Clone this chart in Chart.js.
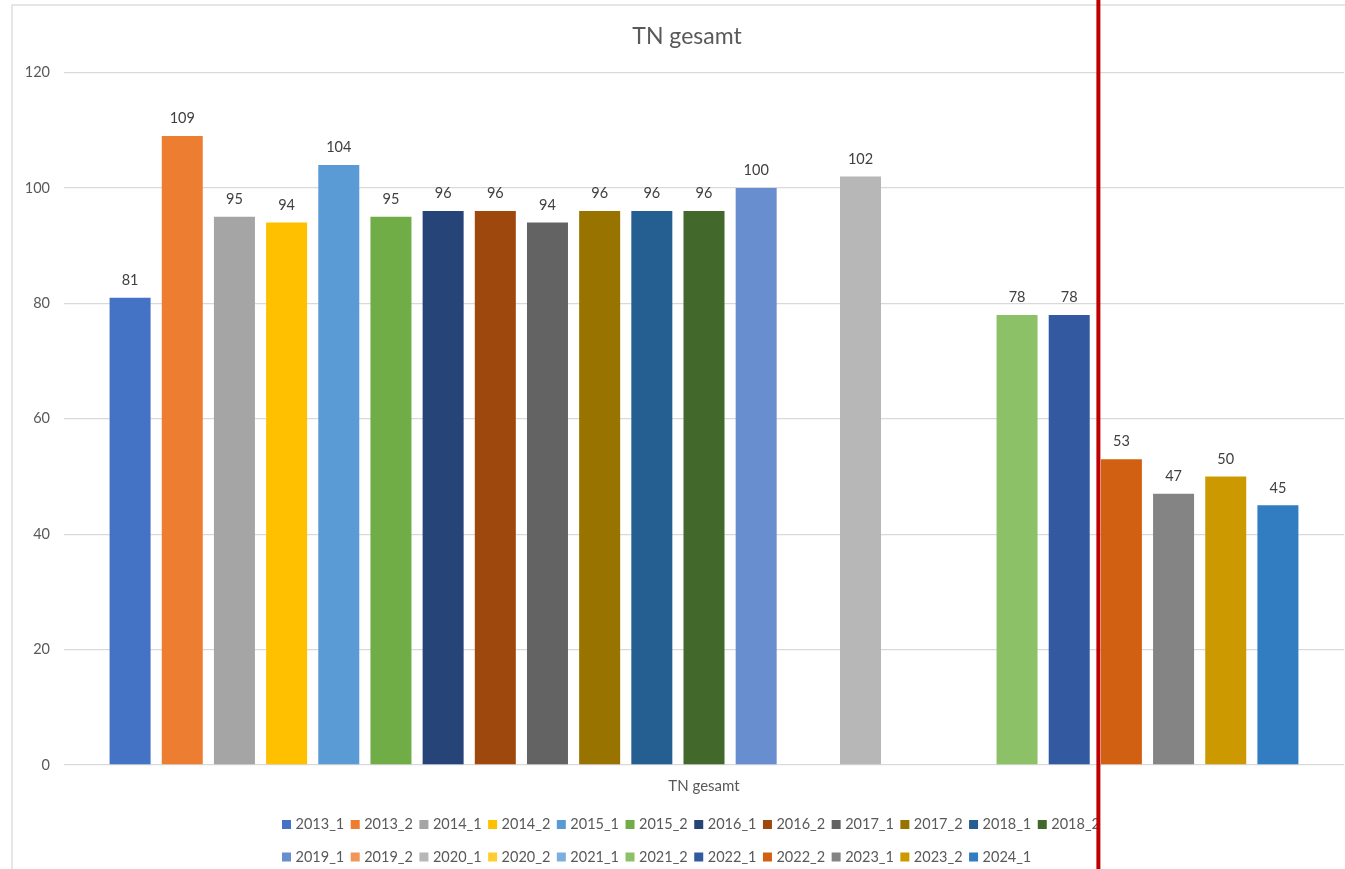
<!DOCTYPE html>
<html>
<head>
<meta charset="utf-8">
<script src="https://cdn.jsdelivr.net/npm/chart.js@4.4.1/dist/chart.umd.min.js"></script>
<style>
  html, body { margin: 0; padding: 0; background: #ffffff; }
  #wrap { width: 1345px; height: 869px; position: relative; }
</style>
</head>
<body>
<div id="wrap"><canvas id="c" width="1345" height="869"></canvas></div>
<script>
const chartTitle = 'TN gesamt';
const categories = ['TN gesamt'];
const seriesNames = ['2013_1','2013_2','2014_1','2014_2','2015_1','2015_2','2016_1','2016_2','2017_1','2017_2','2018_1','2018_2',
                     '2019_1','2019_2','2020_1','2020_2','2021_1','2021_2','2022_1','2022_2','2023_1','2023_2','2024_1'];
const seriesValues = [81,109,95,94,104,95,96,96,94,96,96,96,
                      100,null,102,null,null,78,78,53,47,50,45];
const seriesColors = ['#4472C4','#ED7D31','#A5A5A5','#FFC000','#5B9BD5','#70AD47','#264478','#9E480E','#636363','#997300','#255E91','#43682B',
                      '#698ED0','#F1975A','#B7B7B7','#FFCD33','#7CAFDD','#8CC168','#335AA1','#D26012','#848484','#CC9A00','#327DC2'];
const yTicks = [0,20,40,60,80,100,120];
const legendRows = [12, 11];
const markerSeries = '2022_2';

const FONT = 'Lato, "Noto Sans", sans-serif';

const datasets = seriesNames.map((name, i) => ({
  label: name,
  data: [seriesValues[i]],
  backgroundColor: seriesColors[i],
  borderWidth: 0,
  categoryPercentage: 0.9375,
  barPercentage: 0.786
}));

const framePlugin = {
  id: 'frame',
  beforeDraw(chart) {
    const ctx = chart.ctx;
    ctx.save();
    ctx.fillStyle = '#ffffff';
    ctx.fillRect(0, 0, chart.width, chart.height);
    ctx.strokeStyle = '#D9D9D9';
    ctx.lineWidth = 1.3;
    ctx.strokeRect(12, 5, chart.width + 40, chart.height + 40);
    ctx.restore();
  }
};

const titlePlugin = {
  id: 'excelTitle',
  afterDraw(chart) {
    const ctx = chart.ctx;
    ctx.save();
    ctx.font = '23px ' + FONT;
    ctx.fillStyle = '#595959';
    ctx.textAlign = 'center';
    ctx.textBaseline = 'middle';
    const cx = (chart.chartArea.left + chart.chartArea.right) / 2 - 17;
    ctx.fillText(chartTitle, cx, 37);
    ctx.restore();
  }
};

const labelPlugin = {
  id: 'valueLabels',
  afterDatasetsDraw(chart) {
    const ctx = chart.ctx;
    ctx.save();
    ctx.font = '14.5px ' + FONT;
    ctx.fillStyle = '#404040';
    ctx.textAlign = 'center';
    ctx.textBaseline = 'middle';
    chart.data.datasets.forEach((ds, di) => {
      const meta = chart.getDatasetMeta(di);
      meta.data.forEach((el, j) => {
        const v = ds.data[j];
        if (v === null || v === undefined) return;
        ctx.fillText(String(v), el.x, el.y - 17.5);
      });
    });
    ctx.restore();
  }
};

const legendPlugin = {
  id: 'excelLegend',
  afterDraw(chart) {
    const ctx = chart.ctx;
    ctx.save();
    ctx.font = '14.5px ' + FONT;
    ctx.textBaseline = 'middle';
    const box = 9, gapBox = 4.5, gapItem = 6.5;
    const ds = chart.data.datasets;
    const widths = ds.map(d => box + gapBox + ctx.measureText(d.label).width + gapItem);
    const row1W = widths.slice(0, legendRows[0]).reduce((a, b) => a + b, 0) - gapItem;
    const centerX = (chart.chartArea.left + chart.chartArea.right) / 2 - 11;
    const startX = Math.min(282, centerX - row1W / 2);
    const rowY = [824.5, 857];
    let idx = 0;
    legendRows.forEach((n, r) => {
      let x = startX;
      for (let k = 0; k < n && idx < ds.length; k++, idx++) {
        ctx.fillStyle = ds[idx].backgroundColor;
        ctx.fillRect(x, rowY[r] - 4.5, box, box);
        ctx.fillStyle = '#595959';
        ctx.textAlign = 'left';
        ctx.fillText(ds[idx].label, x + box + gapBox, rowY[r]);
        x += widths[idx];
      }
    });
    ctx.restore();
  }
};

const markerPlugin = {
  id: 'redMarker',
  afterDraw(chart) {
    const di = seriesNames.indexOf(markerSeries);
    const el = chart.getDatasetMeta(di).data[0];
    if (!el) return;
    const x = el.x - el.width / 2 - 2.5;
    const ctx = chart.ctx;
    ctx.save();
    ctx.strokeStyle = '#C00000';
    ctx.lineWidth = 4;
    ctx.beginPath();
    ctx.moveTo(x, 0);
    ctx.lineTo(x, chart.height);
    ctx.stroke();
    ctx.restore();
  }
};

new Chart(document.getElementById('c'), {
  type: 'bar',
  data: { labels: categories, datasets },
  options: {
    responsive: false,
    animation: false,
    devicePixelRatio: 1,
    layout: { padding: { left: 0, right: 1, top: 72.6, bottom: 0 } },
    plugins: {
      legend: { display: false },
      tooltip: { enabled: false },
      title: { display: false }
    },
    scales: {
      x: {
        grid: { display: false, drawTicks: false },
        border: { display: false },
        ticks: { color: '#595959', font: { family: FONT, size: 15 }, padding: 12 },
        afterFit(scale) { scale.height = 104; }
      },
      y: {
        min: yTicks[0],
        max: yTicks[yTicks.length - 1],
        afterBuildTicks(scale) { scale.ticks = yTicks.map(v => ({ value: v })); },
        grid: { color: '#D9D9D9', lineWidth: 1.3, drawTicks: false },
        border: { display: false },
        ticks: { color: '#595959', font: { family: FONT, size: 14.5 }, padding: 14 },
        afterFit(scale) { scale.width = 64; }
      }
    }
  },
  plugins: [framePlugin, labelPlugin, titlePlugin, legendPlugin, markerPlugin]
});
</script>
</body>
</html>
